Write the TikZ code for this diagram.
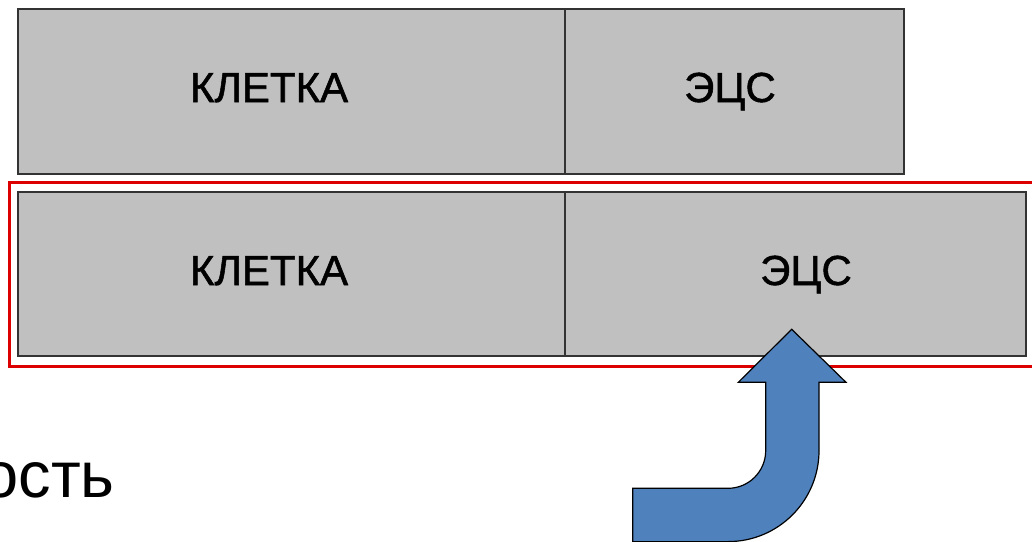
\documentclass[tikz,border=0pt]{standalone}
\usepackage{fontspec}
\setmainfont{Liberation Sans}
\newfontfamily\cellfont[FakeBold=1.3]{Liberation Sans}
\definecolor{boxgrey}{RGB}{192,192,192}
\definecolor{arrowblue}{RGB}{79,129,189}
\definecolor{framered}{RGB}{220,0,0}
\begin{document}
\begin{tikzpicture}[x=1pt,y=-1pt,
  cell/.style={draw=black!80,line width=1.2pt,fill=boxgrey},
  celltext/.style={anchor=base,inner sep=0pt,font=\cellfont\fontsize{42}{50}\selectfont},
  frame/.style={draw=framered,line width=3pt},
  bigarrow/.style={draw=black,line width=1.2pt,fill=arrowblue,line join=miter}]
\useasboundingbox (0,0) rectangle (1032,541);
\clip (0,0) rectangle (1032,541);
% top row
\path[cell] (18,9) rectangle (565,174);
\path[cell] (565,9) rectangle (904,174);
\node[celltext] (t1) at (269,102) {КЛЕТКА};
\node[celltext] (t2) at (730,102) {ЭЦС};
% red frame
\path[frame] (9,182) rectangle (1045,366);
% bottom row
\path[cell] (18,192) rectangle (565,356);
\path[cell] (565,192) rectangle (1026,356);
\node[celltext] (b1) at (269,285) {КЛЕТКА};
\node[celltext] (b2) at (806,285) {ЭЦС};
% partial text
\node[anchor=base east,inner sep=0pt,font=\fontsize{65}{70}\selectfont] (txt) at (115,497) {ость};
% bent arrow
\path[bigarrow] (632.7,488.3) -- (728,488.3)
  arc[start angle=90,end angle=0,radius=37.7] -- (765.7,382.3) -- (738.3,382.3)
  -- (791.7,329.3) -- (846,382.3) -- (819,382.3) -- (819,450.6)
  arc[start angle=0,end angle=90,radius=91] -- (632.7,541.6) -- cycle;
\end{tikzpicture}
\end{document}
